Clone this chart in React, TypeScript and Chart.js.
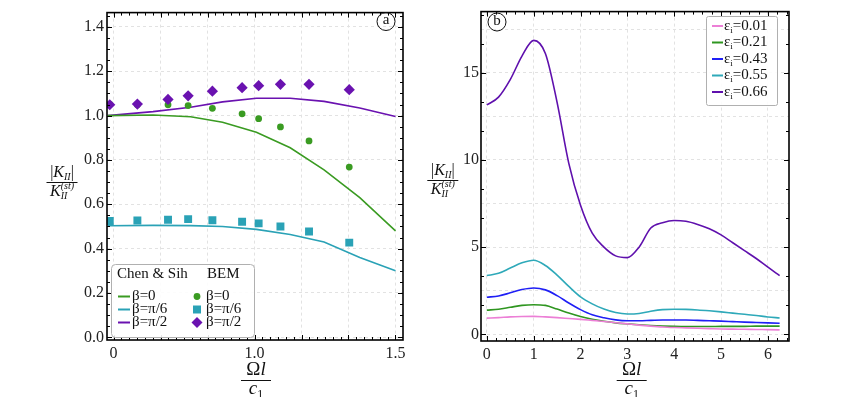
import React, { useEffect, useRef } from 'react';
import { Chart, registerables } from 'chart.js';
Chart.register(...registerables);

const FONT = '"Liberation Serif", "DejaVu Serif", serif';

// ---------- Panel (a) ----------
const chenX = [-0.03, 0.21, 0.41, 0.58, 0.76, 0.94, 1.12, 1.31, 1.5];
const chenBeta0 = [1.0, 1.003, 0.995, 0.97, 0.925, 0.855, 0.755, 0.63, 0.48];
const chenBetaPi6 = [0.503, 0.505, 0.504, 0.5, 0.487, 0.464, 0.43, 0.36, 0.3];
const chenBetaPi2 = [1.0, 1.018, 1.038, 1.062, 1.078, 1.078, 1.064, 1.034, 0.996];

const bemX = [-0.02, 0.127, 0.29, 0.397, 0.526, 0.684, 0.772, 0.888, 1.04, 1.254];
const bemBeta0 = [1.05, 1.049, 1.049, 1.045, 1.033, 1.008, 0.986, 0.949, 0.886, 0.768];
const bemBetaPi6 = [0.525, 0.527, 0.53, 0.533, 0.528, 0.521, 0.514, 0.5, 0.477, 0.427];
const bemBetaPi2 = [1.049, 1.052, 1.073, 1.089, 1.11, 1.126, 1.135, 1.141, 1.141, 1.117];

const betaLabels = ['β=0', 'β=π/6', 'β=π/2'];

const aXTickValues = [0, 0.25, 0.5, 0.75, 1.0, 1.25, 1.5];
const aXTickLabels = ['0', '', '', '1.0', '', '', '1.5'];
const aYTickValues = [0, 0.2, 0.4, 0.6, 0.8, 1.0, 1.2, 1.4];
const aYTickLabels = ['0.0', '0.2', '0.4', '0.6', '0.8', '1.0', '1.2', '1.4'];

// ---------- Panel (b) ----------
const bX = [0, 0.25, 0.5, 0.75, 1.0, 1.25, 1.5, 1.75, 2.0, 2.25, 2.5, 2.75, 3.0, 3.25, 3.5, 3.75, 4.0, 4.25, 4.5, 4.75, 5.0, 5.25, 5.5, 5.75, 6.0, 6.25];
const eps001 = [0.93, 0.96, 1.0, 1.02, 1.03, 1.0, 0.96, 0.91, 0.86, 0.8, 0.74, 0.67, 0.6, 0.53, 0.47, 0.42, 0.39, 0.37, 0.35, 0.33, 0.31, 0.3, 0.29, 0.28, 0.27, 0.26];
const eps021 = [1.39, 1.44, 1.55, 1.66, 1.7, 1.66, 1.45, 1.22, 1.02, 0.87, 0.75, 0.66, 0.6, 0.55, 0.51, 0.48, 0.46, 0.45, 0.45, 0.45, 0.46, 0.46, 0.46, 0.47, 0.47, 0.47];
const eps043 = [2.13, 2.2, 2.38, 2.57, 2.66, 2.55, 2.22, 1.8, 1.42, 1.12, 0.95, 0.83, 0.78, 0.78, 0.8, 0.82, 0.82, 0.82, 0.8, 0.78, 0.76, 0.73, 0.7, 0.68, 0.66, 0.64];
const eps055 = [3.37, 3.5, 3.8, 4.1, 4.25, 3.95, 3.4, 2.75, 2.15, 1.75, 1.45, 1.25, 1.17, 1.2, 1.33, 1.42, 1.44, 1.43, 1.4, 1.35, 1.29, 1.22, 1.15, 1.08, 1.0, 0.94];
const eps066 = [13.15, 13.6, 14.6, 15.95, 16.85, 16.1, 13.3, 9.8, 7.4, 5.8, 5.0, 4.5, 4.4, 5.0, 6.1, 6.4, 6.53, 6.48, 6.3, 6.05, 5.7, 5.25, 4.8, 4.35, 3.85, 3.37];
const epsLabels = ['0.01', '0.21', '0.43', '0.55', '0.66'];

const bXTickValues = [0, 1, 2, 3, 4, 5, 6];
const bXTickLabels = ['0', '1', '2', '3', '4', '5', '6'];
const bYTickValues = [0, 2.5, 5, 7.5, 10, 12.5, 15, 17.5];
const bYTickLabels = ['0', '', '5', '', '10', '', '15', ''];

// colours
const A_GREEN = '#3a9b22';
const A_CYAN = '#2aa2b6';
const A_PURPLE = '#6a12b0';
const B_COLORS = ['#ec7fd6', '#2f9620', '#1f1ff5', '#2ea9b9', '#5f10ad'];

type Seg = { t: string; it?: boolean; sub?: boolean; sup?: boolean; supT?: string };

function segFont(s: Seg, size: number) {
  const small = s.sub || s.sup;
  return `${s.it ? 'italic ' : ''}${small ? Math.round(size * 0.62) : size}px ${FONT}`;
}
function segWidth(ctx: CanvasRenderingContext2D, s: Seg, size: number) {
  ctx.font = segFont(s, size);
  let w = ctx.measureText(s.t).width;
  if (s.supT) {
    ctx.font = segFont({ t: s.supT, it: s.it, sup: true }, size);
    w = Math.max(w, ctx.measureText(s.supT).width);
  }
  return w;
}
function drawRich(ctx: CanvasRenderingContext2D, segs: Seg[], x: number, y: number, size: number, align: 'left' | 'center') {
  const widths = segs.map((s) => segWidth(ctx, s, size));
  const total = widths.reduce((p, c) => p + c, 0);
  let cx = align === 'center' ? x - total / 2 : x;
  ctx.textAlign = 'left';
  ctx.textBaseline = 'middle';
  segs.forEach((s, i) => {
    ctx.font = segFont(s, size);
    const dy = s.sub ? size * 0.3 : s.sup ? -size * 0.35 : 0;
    ctx.fillText(s.t, cx, y + dy);
    if (s.supT) {
      ctx.font = segFont({ t: s.supT, it: s.it, sup: true }, size);
      ctx.fillText(s.supT, cx, y - size * 0.38);
    }
    cx += widths[i];
  });
  return total;
}
function drawFrac(ctx: CanvasRenderingContext2D, num: Seg[], den: Seg[], cx: number, barY: number, size: number, barW: number, numDy: number, denDy: number) {
  ctx.fillStyle = '#111';
  drawRich(ctx, num, cx, barY - numDy, size, 'center');
  drawRich(ctx, den, cx, barY + denDy, size, 'center');
  ctx.strokeStyle = '#111';
  ctx.lineWidth = 1;
  ctx.beginPath();
  ctx.moveTo(cx - barW / 2, barY + 0.5);
  ctx.lineTo(cx + barW / 2, barY + 0.5);
  ctx.stroke();
}
function roundRect(ctx: CanvasRenderingContext2D, x: number, y: number, w: number, h: number, r: number) {
  ctx.beginPath();
  ctx.moveTo(x + r, y);
  ctx.lineTo(x + w - r, y);
  ctx.arcTo(x + w, y, x + w, y + r, r);
  ctx.lineTo(x + w, y + h - r);
  ctx.arcTo(x + w, y + h, x + w - r, y + h, r);
  ctx.lineTo(x + r, y + h);
  ctx.arcTo(x, y + h, x, y + h - r, r);
  ctx.lineTo(x, y + r);
  ctx.arcTo(x, y, x + r, y, r);
  ctx.closePath();
}

const yNum: Seg[] = [{ t: '|' }, { t: 'K', it: true }, { t: 'II', it: true, sub: true }, { t: '|' }];
const yDen: Seg[] = [{ t: 'K', it: true }, { t: 'II', it: true, sub: true, supT: '(st)' }];
const xNum: Seg[] = [{ t: 'Ω' }, { t: 'l', it: true }];
const xDen: Seg[] = [{ t: 'c', it: true }, { t: '1', sub: true }];

type DecorOpts = {
  xMajor: number; xMinor: number; yMajor: number; yMinor: number;
  yTitle: { cx: number; barY: number; barW: number };
  xTitle: { cx: number; barY: number; barW: number };
  letter: { x: number; y: number; t: string };
  legend: (ctx: CanvasRenderingContext2D) => void;
};

function makeDecor(o: DecorOpts) {
  return {
    id: 'decor',
    afterDraw(chart: any) {
      const ctx: CanvasRenderingContext2D = chart.ctx;
      const a = chart.chartArea;
      const xs = chart.scales.x;
      const ys = chart.scales.y;
      const near = (v: number, step: number) => Math.abs(v / step - Math.round(v / step)) < 1e-6;
      ctx.save();
      ctx.strokeStyle = '#000';
      ctx.lineWidth = 1;
      for (let k = Math.ceil(xs.min / o.xMinor - 1e-9); k * o.xMinor <= xs.max + 1e-9; k++) {
        const v = k * o.xMinor;
        const px = Math.round(xs.getPixelForValue(v)) + 0.5;
        const len = near(v, o.xMajor) ? 5 : 3;
        ctx.beginPath();
        ctx.moveTo(px, a.bottom);
        ctx.lineTo(px, a.bottom - len);
        ctx.moveTo(px, a.top);
        ctx.lineTo(px, a.top + len);
        ctx.stroke();
      }
      for (let k = Math.ceil(ys.min / o.yMinor - 1e-9); k * o.yMinor <= ys.max + 1e-9; k++) {
        const v = k * o.yMinor;
        const py = Math.round(ys.getPixelForValue(v)) + 0.5;
        const len = near(v, o.yMajor) ? 5 : 3;
        ctx.beginPath();
        ctx.moveTo(a.left, py);
        ctx.lineTo(a.left + len, py);
        ctx.moveTo(a.right, py);
        ctx.lineTo(a.right - len, py);
        ctx.stroke();
      }
      ctx.lineWidth = 1.6;
      ctx.strokeRect(a.left, a.top, a.right - a.left, a.bottom - a.top);

      drawFrac(ctx, yNum, yDen, o.yTitle.cx, o.yTitle.barY, 16, o.yTitle.barW, 9, 10);
      drawFrac(ctx, xNum, xDen, o.xTitle.cx, o.xTitle.barY, 19, o.xTitle.barW, 10, 9);

      // circled letter
      ctx.lineWidth = 1;
      ctx.strokeStyle = '#111';
      ctx.beginPath();
      ctx.arc(o.letter.x, o.letter.y, 9, 0, Math.PI * 2);
      ctx.stroke();
      ctx.fillStyle = '#111';
      ctx.font = `15px ${FONT}`;
      ctx.textAlign = 'center';
      ctx.textBaseline = 'middle';
      ctx.fillText(o.letter.t, o.letter.x, o.letter.y - 1);

      o.legend(ctx);
      ctx.restore();
    },
  };
}

function drawMarker(ctx: CanvasRenderingContext2D, kind: string, x: number, y: number, color: string) {
  ctx.fillStyle = color;
  ctx.beginPath();
  if (kind === 'circle') ctx.arc(x, y, 3.4, 0, Math.PI * 2);
  else if (kind === 'rect') ctx.rect(x - 4, y - 4, 8, 8);
  else {
    ctx.moveTo(x, y - 5.5);
    ctx.lineTo(x + 5.5, y);
    ctx.lineTo(x, y + 5.5);
    ctx.lineTo(x - 5.5, y);
    ctx.closePath();
  }
  ctx.fill();
}

const legendA = (ctx: CanvasRenderingContext2D) => {
  roundRect(ctx, 111.5, 264.5, 143, 73, 4);
  ctx.fillStyle = 'rgba(255,255,255,0.9)';
  ctx.fill();
  ctx.strokeStyle = '#b0b0b0';
  ctx.lineWidth = 1;
  ctx.stroke();
  ctx.fillStyle = '#111';
  ctx.font = `15px ${FONT}`;
  ctx.textAlign = 'left';
  ctx.textBaseline = 'middle';
  ctx.fillText('Chen & Sih', 117, 274);
  ctx.fillText('BEM', 207, 274);
  const cols = [A_GREEN, A_CYAN, A_PURPLE];
  const marks = ['circle', 'rect', 'rectRot'];
  const rowY = [296.5, 309.5, 322.5];
  betaLabels.forEach((lab, i) => {
    const y = rowY[i];
    ctx.strokeStyle = cols[i];
    ctx.lineWidth = 2;
    ctx.beginPath();
    ctx.moveTo(118, y);
    ctx.lineTo(130, y);
    ctx.stroke();
    ctx.fillStyle = '#111';
    ctx.font = `15px ${FONT}`;
    ctx.fillText(lab, 132, y);
    drawMarker(ctx, marks[i], 197, y, cols[i]);
    ctx.fillStyle = '#111';
    ctx.font = `15px ${FONT}`;
    ctx.fillText(lab, 206, y);
  });
};

const legendB = (ctx: CanvasRenderingContext2D) => {
  roundRect(ctx, 286.5, 16.5, 71, 89, 2);
  ctx.fillStyle = 'rgba(255,255,255,0.9)';
  ctx.fill();
  ctx.strokeStyle = '#b0b0b0';
  ctx.lineWidth = 1;
  ctx.stroke();
  const rowY = [26, 42.5, 59, 75.5, 92];
  epsLabels.forEach((lab, i) => {
    const y = rowY[i];
    ctx.strokeStyle = B_COLORS[i];
    ctx.lineWidth = 2;
    ctx.beginPath();
    ctx.moveTo(292, y);
    ctx.lineTo(303, y);
    ctx.stroke();
    ctx.fillStyle = '#111';
    drawRich(ctx, [{ t: 'ε' }, { t: 'i', sub: true }, { t: '=' + lab }], 304, y, 15, 'left');
  });
};

function scaleCommon(tickVals: number[], tickLabels: string[], min: number, max: number, fit: (s: any) => void, padding: number) {
  return {
    type: 'linear' as const,
    min,
    max,
    afterBuildTicks: (s: any) => {
      s.ticks = tickVals.map((v) => ({ value: v }));
    },
    afterFit: fit,
    grid: { color: '#e2e2e2', lineWidth: 1, drawTicks: false },
    border: { display: false, dash: [3, 3] },
    ticks: {
      padding,
      autoSkip: false,
      maxRotation: 0,
      color: '#222',
      font: { size: 16, family: FONT },
      callback: (_v: any, i: number) => tickLabels[i],
    },
  };
}

export default function App() {
  const refA = useRef<HTMLCanvasElement | null>(null);
  const refB = useRef<HTMLCanvasElement | null>(null);

  useEffect(() => {
    const pts = (xs: number[], ys: number[]) => xs.map((x, i) => ({ x, y: ys[i] }));
    const lineDs = (label: string, d: any[], color: string, tension: number) => ({
      label, data: d, borderColor: color, backgroundColor: color, borderWidth: 1.6,
      pointRadius: 0, tension, cubicInterpolationMode: tension > 0 ? 'monotone' : 'default', order: 5,
    });
    const chartA = new Chart(refA.current!, {
      type: 'line',
      data: {
        datasets: [
          lineDs('Chen & Sih ' + betaLabels[0], pts(chenX, chenBeta0), A_GREEN, 0),
          lineDs('Chen & Sih ' + betaLabels[1], pts(chenX, chenBetaPi6), A_CYAN, 0),
          lineDs('Chen & Sih ' + betaLabels[2], pts(chenX, chenBetaPi2), A_PURPLE, 0),
          { label: 'BEM ' + betaLabels[0], data: pts(bemX, bemBeta0), showLine: false, pointStyle: 'circle', pointRadius: 3.4, backgroundColor: A_GREEN, borderColor: A_GREEN, borderWidth: 0, order: 3 },
          { label: 'BEM ' + betaLabels[1], data: pts(bemX, bemBetaPi6), showLine: false, pointStyle: 'rect', pointRadius: 5.6, backgroundColor: A_CYAN, borderColor: A_CYAN, borderWidth: 0, order: 2 },
          { label: 'BEM ' + betaLabels[2], data: pts(bemX, bemBetaPi2), showLine: false, pointStyle: 'rectRot', pointRadius: 5.6, backgroundColor: A_PURPLE, borderColor: A_PURPLE, borderWidth: 0, order: 1 },
        ] as any,
      },
      options: {
        animation: false,
        responsive: false,
        events: [],
        layout: { padding: { left: 0, right: 17, top: 5, bottom: 0 } },
        plugins: { legend: { display: false }, tooltip: { enabled: false } },
        scales: {
          x: scaleCommon(aXTickValues, aXTickLabels, -0.0346, 1.5399, (s: any) => { s.height = 57; }, 4),
          y: scaleCommon(aYTickValues, aYTickLabels, -0.012, 1.4645, (s: any) => { s.width = 107; }, 3),
        } as any,
      },
      plugins: [makeDecor({
        xMajor: 0.25, xMinor: 0.25 / 6, yMajor: 0.2, yMinor: 0.05,
        yTitle: { cx: 62, barY: 182, barW: 31 },
        xTitle: { cx: 256, barY: 380, barW: 30 },
        letter: { x: 386, y: 21.5, t: 'a' },
        legend: legendA,
      })],
    });

    const chartB = new Chart(refB.current!, {
      type: 'line',
      data: {
        datasets: [
          lineDs('εi=' + epsLabels[0], pts(bX, eps001), B_COLORS[0], 0.4),
          lineDs('εi=' + epsLabels[1], pts(bX, eps021), B_COLORS[1], 0.4),
          lineDs('εi=' + epsLabels[2], pts(bX, eps043), B_COLORS[2], 0.4),
          lineDs('εi=' + epsLabels[3], pts(bX, eps055), B_COLORS[3], 0.4),
          lineDs('εi=' + epsLabels[4], pts(bX, eps066), B_COLORS[4], 0.4),
        ] as any,
      },
      options: {
        animation: false,
        responsive: false,
        events: [],
        layout: { padding: { left: 0, right: 76, top: 5, bottom: 0 } },
        plugins: { legend: { display: false }, tooltip: { enabled: false } },
        scales: {
          x: scaleCommon(bXTickValues, bXTickLabels, -0.124, 6.45, (s: any) => { s.height = 56; }, 4),
          y: scaleCommon(bYTickValues, bYTickLabels, -0.38, 18.5, (s: any) => { s.width = 61; }, 2),
        } as any,
      },
      plugins: [makeDecor({
        xMajor: 1, xMinor: 0.2, yMajor: 5, yMinor: 5 / 3,
        yTitle: { cx: 22.8, barY: 180, barW: 31 },
        xTitle: { cx: 211.7, barY: 380, barW: 30 },
        letter: { x: 77, y: 22, t: 'b' },
        legend: legendB,
      })],
    });

    return () => {
      chartA.destroy();
      chartB.destroy();
    };
  }, []);

  return (
    <div style={{ position: 'fixed', left: 0, top: 0, width: 865, height: 397, background: '#fff' }}>
      <canvas ref={refA} width={420} height={397} style={{ position: 'absolute', left: 0, top: 0, width: 420, height: 397 }} />
      <canvas ref={refB} width={445} height={397} style={{ position: 'absolute', left: 420, top: 0, width: 445, height: 397 }} />
    </div>
  );
}
